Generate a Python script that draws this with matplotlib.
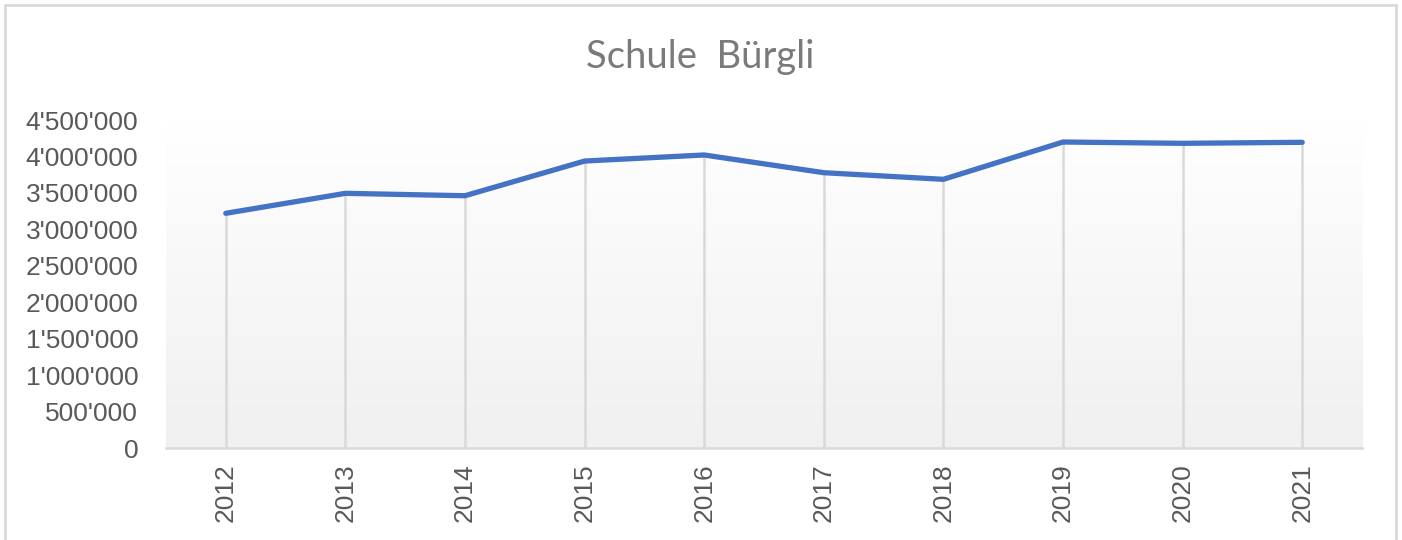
import matplotlib
matplotlib.use("Agg")
import matplotlib.pyplot as plt
import numpy as np
from matplotlib.ticker import FuncFormatter
from matplotlib.patches import Rectangle
from matplotlib.colors import LinearSegmentedColormap

years = ["2012", "2013", "2014", "2015", "2016", "2017", "2018", "2019", "2020", "2021"]
values = [3220000, 3494000, 3461000, 3937000, 4020000, 3777000, 3686000, 4198000, 4180000, 4194000]
yticks = [0, 500000, 1000000, 1500000, 2000000, 2500000, 3000000, 3500000, 4000000, 4500000]
title = "Schule  Bürgli"

fig = plt.figure(figsize=(14.02, 5.40), dpi=100)
W, H = 1402, 540
ax = fig.add_axes([166 / W, (H - 448) / H, (1362 - 166) / W, (448 - 120) / H])

x = np.arange(len(years))
ax.set_xlim(-0.5, len(years) - 0.5)
ax.set_ylim(0, 4500000)

# gradient plot-area background
grad = np.linspace(1.0, 0.0, 256).reshape(-1, 1)
cmap = LinearSegmentedColormap.from_list("g", ["#f0f0f0", "#ffffff"])
ax.imshow(grad, extent=(0, 1, 0, 1), transform=ax.transAxes, cmap=cmap,
          aspect="auto", zorder=0, origin="upper", vmin=0, vmax=1)

ax.vlines(x, 0, values, colors="#d9d9d9", linewidth=1.8, zorder=1)
ax.plot(x, values, color="#4472C4", linewidth=3.8, solid_capstyle="round",
        solid_joinstyle="round", zorder=3)

ax.set_xticks(x)
ax.set_xticklabels(years, rotation=90, fontsize=19, color="#595959", family="Liberation Sans")
ax.set_yticks(yticks)
ax.yaxis.set_major_formatter(FuncFormatter(lambda v, p: f"{int(v):,}".replace(",", "'")))
for lbl in ax.get_yticklabels():
    lbl.set_fontsize(19)
    lbl.set_color("#595959")
    lbl.set_family("Liberation Sans")
ax.tick_params(axis="both", length=0)
ax.tick_params(axis="y", pad=20)
ax.tick_params(axis="x", pad=11)

for s in ["top", "left", "right"]:
    ax.spines[s].set_visible(False)
ax.spines["bottom"].set_color("#d9d9d9")
ax.spines["bottom"].set_linewidth(1.8)
ax.set_facecolor("white")

fig.text(700 / W, 1 - 57 / H, title, ha="center", va="center", fontsize=27.5,
         color="#7a7a7a", family="Lato")

# chart frame
fig.patches.append(Rectangle((5 / W, -0.05), (1396 - 5) / W, 1.05 - 5 / H,
                             transform=fig.transFigure, fill=False,
                             edgecolor="#d9d9d9", linewidth=2))

fig.savefig("out.png", dpi=100)
